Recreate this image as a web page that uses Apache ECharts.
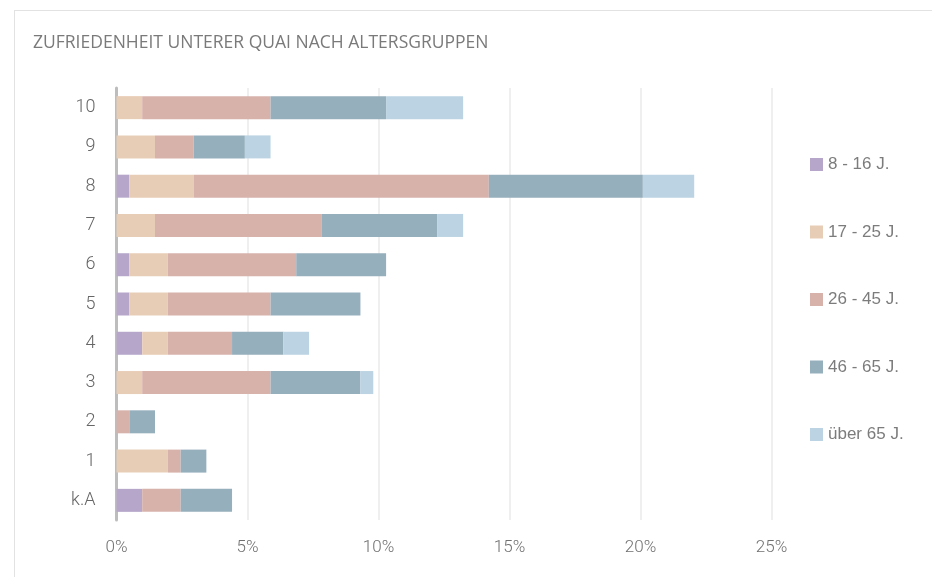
<!DOCTYPE html>
<html>
<head>
<meta charset="utf-8">
<script src="https://cdn.jsdelivr.net/npm/echarts@6/dist/echarts.min.js"></script>
<style>
  html, body { margin: 0; padding: 0; background: #fff; overflow: hidden; }
  #card { position: absolute; left: 14px; top: 10px; width: 1000px; height: 700px;
          border-top: 1px solid #e2e2e2; border-left: 1px solid #e2e2e2; }
  #chart { position: absolute; left: 0; top: 0; width: 932px; height: 577px; }
</style>
</head>
<body>
<div id="card"></div>
<div id="chart"></div>
<script>
// Satisfaction rating categories (bottom to top)
const categories = ['k.A', '1', '2', '3', '4', '5', '6', '7', '8', '9', '10'];

// Share of respondents per age group, in percent
const age8to16   = [0.98, 0, 0, 0, 0.98, 0.49, 0.49, 0, 0.49, 0, 0];
const age17to25  = [0, 1.96, 0, 0.98, 0.98, 1.47, 1.47, 1.47, 2.45, 1.47, 0.98];
const age26to45  = [1.47, 0.49, 0.49, 4.90, 2.45, 3.92, 4.90, 6.37, 11.27, 1.47, 4.90];
const age46to65  = [1.96, 0.98, 0.98, 3.43, 1.96, 3.43, 3.43, 4.41, 5.88, 1.96, 4.41];
const ageOver65  = [0, 0, 0, 0.49, 0.98, 0, 0, 0.98, 1.96, 0.98, 2.94];

const seriesNames = ['8 - 16 J.', '17 - 25 J.', '26 - 45 J.', '46 - 65 J.', 'über 65 J.'];
const seriesData = [age8to16, age17to25, age26to45, age46to65, ageOver65];
const colors = ['#b6a7ca', '#e8cdb6', '#d7b2ab', '#96afbd', '#bbd3e2'];

const xTicks = { min: 0, max: 25, interval: 5 };

const chart = echarts.init(document.getElementById('chart'), null, { renderer: 'canvas' });

const lightFont = 'Roboto, "Liberation Sans", sans-serif';
const legendFont = '"Liberation Sans", Arial, sans-serif';

chart.setOption({
  animation: false,
  color: colors,
  title: {
    text: 'ZUFRIEDENHEIT UNTERER QUAI NACH ALTERSGRUPPEN',
    left: 28,
    top: 29,
    textStyle: { fontFamily: '"Open Sans", sans-serif', fontSize: 17.5, fontWeight: 'normal', color: '#7a7a7a' }
  },
  legend: {
    orient: 'vertical',
    left: 805,
    top: 151,
    itemWidth: 13,
    itemHeight: 13,
    itemGap: 50.5,
    itemTextGap: 5,
    icon: 'rect',
    textStyle: { fontFamily: legendFont, fontSize: 17, fontWeight: 'normal', color: '#7c7c7c' },
    data: seriesNames
  },
  grid: { left: 116.5, right: 160.5, top: 88, bottom: 57, containLabel: false },
  xAxis: {
    type: 'value',
    min: xTicks.min,
    max: xTicks.max,
    interval: xTicks.interval,
    axisLine: { show: false },
    axisTick: { show: false },
    axisLabel: {
      formatter: '{value}%',
      margin: 19,
      fontFamily: lightFont, fontSize: 17, fontWeight: 300, color: '#707070'
    },
    splitLine: { show: true, lineStyle: { color: '#efefef', width: 2 } }
  },
  yAxis: {
    type: 'category',
    data: categories,
    axisLine: { show: true, lineStyle: { color: '#bdbdbd', width: 3 } },
    axisTick: { show: false },
    axisLabel: { margin: 21, fontFamily: lightFont, fontSize: 18, fontWeight: 300, color: '#666' }
  },
  series: seriesNames.map((name, i) => ({
    name: name,
    type: 'bar',
    stack: 'total',
    barWidth: 23,
    data: seriesData[i],
    itemStyle: { color: colors[i] }
  }))
});
</script>
</body>
</html>
